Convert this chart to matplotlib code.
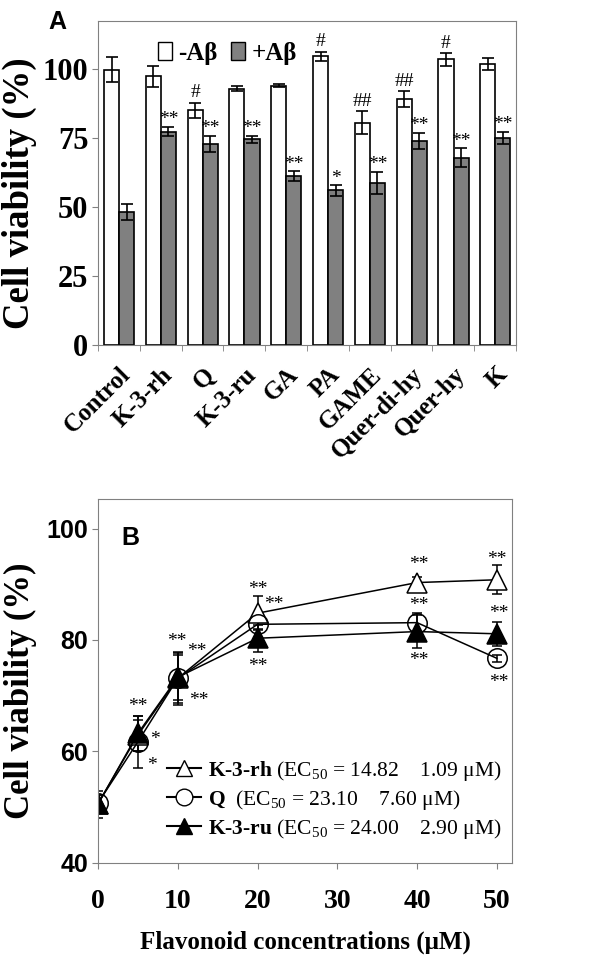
import matplotlib
matplotlib.use('Agg')
import matplotlib.pyplot as plt
import numpy as np
from matplotlib.patches import Patch
from matplotlib.lines import Line2D

plt.rcParams['font.family'] = ['Liberation Serif', 'DejaVu Serif']
plt.rcParams['mathtext.fontset'] = 'custom'
plt.rcParams['mathtext.rm'] = 'Liberation Serif'
plt.rcParams['mathtext.bf'] = 'Liberation Serif:bold'
plt.rcParams['mathtext.it'] = 'Liberation Serif:italic'

# panel A data
groups = ['Control', 'K-3-rh', 'Q', 'K-3-ru', 'GA', 'PA', 'GAME',
          'Quer-di-hy', 'Quer-hy', 'K']
no_ab = [99.8, 97.3, 85.1, 92.9, 94.0, 104.6, 80.6, 89.0, 103.5, 101.8]
no_ab_err = [4.4, 3.7, 2.7, 1.0, 0.6, 1.7, 4.2, 2.9, 2.3, 2.1]
with_ab = [48.3, 77.3, 72.8, 74.5, 61.1, 56.0, 58.8, 73.9, 67.8, 75.1]
with_ab_err = [2.9, 1.7, 3.0, 1.2, 1.8, 1.9, 4.0, 3.0, 3.4, 2.2]
no_ab_mark = ['', '', '#', '', '', '#', '##', '##', '#', '']
with_ab_mark = ['', '**', '**', '**', '**', '*', '**', '**', '**', '**']

# panel B data
conc = [0, 5, 10, 20, 40, 50]
k3rh = [50.6, 62.9, 73.1, 84.8, 90.3, 90.8]
k3rh_err = [1.5, 2.8, 4.8, 3.0, 1.0, 2.6]
quer = [50.7, 61.7, 73.1, 82.8, 83.1, 76.7]
quer_err = [1.5, 4.7, 4.5, 0.8, 1.7, 0.6]
k3ru = [50.5, 63.2, 73.3, 80.3, 81.5, 81.1]
k3ru_err = [2.4, 3.1, 4.0, 2.4, 3.0, 2.2]
b_marks = [(5, 68.1, '**'), (7.1, 62.2, '*'), (6.7, 57.5, '*'),
           (9.9, 79.7, '**'), (12.4, 77.9, '**'), (12.6, 69.2, '**'),
           (20, 89.1, '**'), (22, 86.3, '**'), (20, 75.3, '**'),
           (40.2, 93.5, '**'), (40.2, 86.1, '**'), (40.2, 76.3, '**'),
           (50, 94.4, '**'), (50.3, 84.7, '**'), (50.3, 72.3, '**')]

spine_col = '#808080'
fig = plt.figure(figsize=(6, 9.58), dpi=100)

# ---------------- panel A
ax = fig.add_axes([0.1633, 0.6399, 0.6967, 0.3382])
x = np.arange(len(groups))
w = 0.36
ax.bar(x - 0.175, no_ab, w, color='white', edgecolor='black', linewidth=1.2,
       yerr=no_ab_err, capsize=4.5, error_kw=dict(elinewidth=1.2, capthick=1.2))
ax.bar(x + 0.185, with_ab, w, color='#808080', edgecolor='black', linewidth=1.2,
       yerr=with_ab_err, capsize=4.5, error_kw=dict(elinewidth=1.2, capthick=1.2))
for i in range(len(groups)):
    if no_ab_mark[i]:
        ax.annotate(no_ab_mark[i], (x[i] - 0.175, no_ab[i] + no_ab_err[i]),
                    xytext=(0, 1), textcoords='offset points',
                    ha='center', va='bottom', fontsize=14)
    if with_ab_mark[i]:
        ax.annotate(with_ab_mark[i], (x[i] + 0.185, with_ab[i] + with_ab_err[i]),
                    xytext=(0, -1), textcoords='offset points',
                    ha='center', va='bottom', fontsize=14)
ax.set_xlim(-0.5, 9.5)
ax.set_ylim(0, 117.4)
ax.set_yticks([0, 25, 50, 75, 100])
ax.set_xticks(x)
ax.set_xticklabels(groups, rotation=45, ha='right', rotation_mode='anchor',
                   fontsize=18, fontweight='bold')
ax.set_xticks(np.arange(-0.5, 10, 1), minor=True)
ax.tick_params(axis='x', which='major', length=0, pad=13)
ax.tick_params(axis='x', which='minor', length=4, color=spine_col)
ax.tick_params(axis='y', length=4, color=spine_col, labelsize=22, pad=3)
for lab in ax.get_yticklabels():
    lab.set_fontweight('bold')
for s in ax.spines.values():
    s.set_color(spine_col)
ax.set_ylabel('Cell viability (%)', fontsize=26.5, fontweight='bold')
ax.yaxis.set_label_coords(-0.146, 0.468)
ax.legend(handles=[Patch(facecolor='white', edgecolor='black'),
                   Patch(facecolor='#808080', edgecolor='black')],
          labels=['-A\u03b2', '+A\u03b2'], ncol=2, frameon=False,
          loc='center left', bbox_to_anchor=(0.144, 0.9), borderaxespad=0,
          prop=dict(size=18, weight='bold'), handlelength=0.55, handleheight=0.75,
          handletextpad=0.25, columnspacing=0.55, borderpad=0)
fig.text(57 / 600, 1 - 22 / 958, 'A', ha='center', va='center', fontsize=18,
         fontweight='bold', family='Liberation Sans')

# ---------------- panel B
bx = fig.add_axes([0.1633, 0.0995, 0.69, 0.3796])
ekw = dict(color='black', linewidth=1.1, capsize=3.5, capthick=1.1,
           elinewidth=1.1, markersize=14, markeredgewidth=1.1)
bx.errorbar(conc, k3rh, yerr=k3rh_err, marker='^', markerfacecolor='white',
            markeredgecolor='black', **ekw)
bx.errorbar(conc, quer, yerr=quer_err, marker='o', markerfacecolor='none',
            markeredgecolor='black', **ekw)
bx.errorbar(conc, k3ru, yerr=k3ru_err, marker='^', markerfacecolor='black',
            markeredgecolor='black', **ekw)
for xx, yy, t in b_marks:
    bx.text(xx, yy, t, ha='center', va='center', fontsize=14)
bx.set_xlim(0, 51.9)
bx.set_ylim(40, 105.3)
bx.set_xticks([0, 10, 20, 30, 40, 50])
bx.set_yticks([40, 60, 80, 100])
bx.tick_params(axis='x', length=4, color=spine_col, labelsize=20, pad=15)
bx.tick_params(axis='y', length=4, color=spine_col, labelsize=18, pad=3)
for lab in bx.get_xticklabels():
    lab.set_fontweight('bold')
for lab in bx.get_yticklabels():
    lab.set_fontweight('bold')
    lab.set_family('Liberation Sans')
for s in bx.spines.values():
    s.set_color(spine_col)
bx.set_ylabel('Cell viability (%)', fontsize=25, fontweight='bold')
bx.yaxis.set_label_coords(-0.148, 0.472)
bx.set_xlabel('Flavonoid concentrations (\u03bcM)', fontsize=18, fontweight='bold',
              labelpad=12)
h1 = Line2D([], [], color='black', marker='^', markerfacecolor='white', markersize=12)
h2 = Line2D([], [], color='black', marker='o', markerfacecolor='white', markersize=12)
h3 = Line2D([], [], color='black', marker='^', markerfacecolor='black', markersize=12)
labels_b = [r'$\mathbf{K}$-$\mathbf{3}$-$\mathbf{rh}$ (EC$_{50}$ = 14.82    1.09 ' + '\u03bcM)',
            r'$\mathbf{Q}$  (EC$_{50}$ = 23.10    7.60 ' + '\u03bcM)',
            r'$\mathbf{K}$-$\mathbf{3}$-$\mathbf{ru}$ (EC$_{50}$ = 24.00    2.90 ' + '\u03bcM)']
bx.legend([h1, h2, h3], labels_b, loc='upper left', bbox_to_anchor=(0.14, 0.315),
          frameon=False, fontsize=15.5, labelspacing=0.23, handlelength=1.6,
          handletextpad=0.3, borderpad=0)
fig.text(130 / 600, 1 - 538 / 958, 'B', ha='center', va='center', fontsize=18,
         fontweight='bold', family='Liberation Sans')

fig.savefig('out.png', dpi=100)
